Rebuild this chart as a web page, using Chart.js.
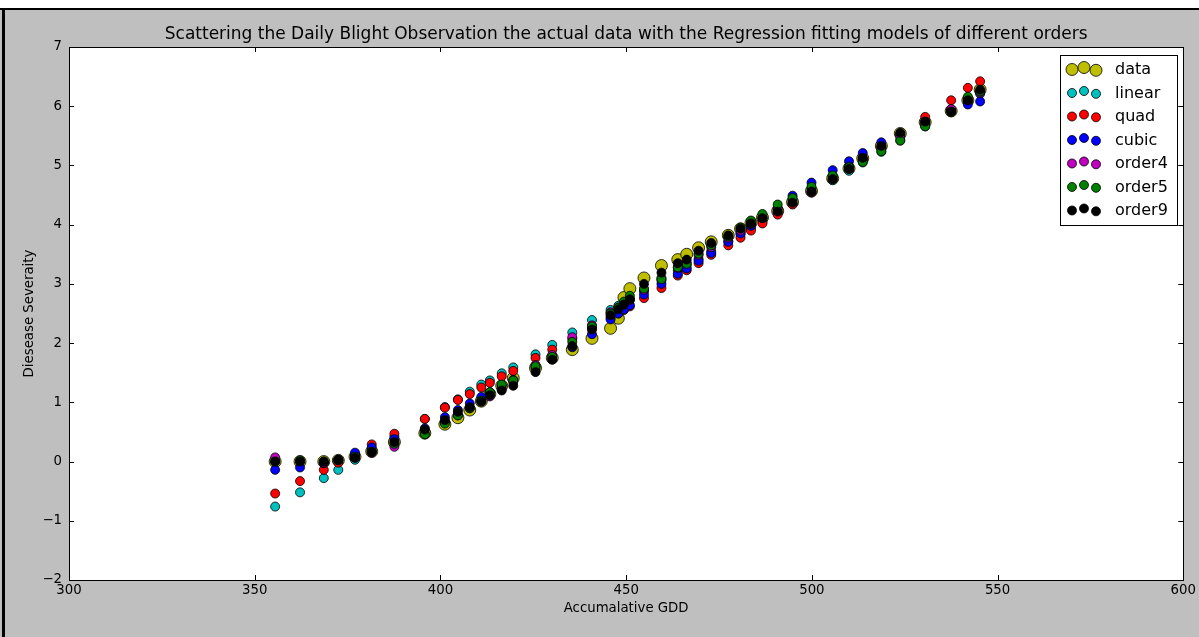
<!DOCTYPE html>
<html>
<head>
<meta charset="utf-8">
<script src="https://cdn.jsdelivr.net/npm/chart.js@4/dist/chart.umd.min.js"></script>
<style>
  html, body { margin: 0; padding: 0; background: #bfbfbf; overflow: hidden; }
  canvas { display: block; }
</style>
</head>
<body>
<canvas id="blight" width="1199" height="637"></canvas>
<script>
// Accumulated growing degree days for each observation day
const gdd = [355.5, 362.2, 368.6, 372.5, 377.0, 381.5, 387.6, 395.8, 401.2, 404.7,
             407.9, 411.0, 413.3, 416.5, 419.6, 425.6, 430.1, 435.5, 440.8, 445.8,
             447.9, 449.4, 451.0, 454.8, 459.5, 463.9, 466.3, 469.5, 472.9, 477.5,
             480.8, 483.6, 486.7, 490.8, 494.8, 499.9, 505.6, 510.0, 513.7, 518.7,
             523.8, 530.5, 537.5, 542.0, 545.3];

// Observed blight severity
const observed = [0.00, 0.00, 0.00, 0.02, 0.08, 0.17, 0.33, 0.48, 0.63, 0.74,
                  0.87, 1.02, 1.14, 1.28, 1.41, 1.58, 1.75, 1.89, 2.08, 2.25,
                  2.42, 2.77, 2.92, 3.10, 3.31, 3.41, 3.50, 3.61, 3.71, 3.82,
                  3.93, 4.03, 4.12, 4.23, 4.38, 4.57, 4.78, 4.95, 5.12, 5.33,
                  5.54, 5.73, 5.92, 6.10, 6.28];

// Predictions of the polynomial regressions
const linearFit = [-0.76, -0.52, -0.28, -0.14, 0.03, 0.19, 0.42, 0.72, 0.92, 1.05,
                   1.18, 1.30, 1.37, 1.49, 1.59, 1.81, 1.97, 2.18, 2.39, 2.56,
                   2.63, 2.69, 2.74, 2.88, 3.06, 3.22, 3.31, 3.42, 3.55, 3.72,
                   3.84, 3.94, 4.05, 4.20, 4.35, 4.54, 4.75, 4.91, 5.05, 5.23,
                   5.42, 5.66, 5.92, 6.08, 6.21];

const quadFit = [-0.54, -0.33, -0.14, -0.02, 0.12, 0.29, 0.47, 0.72, 0.91, 1.04,
                 1.14, 1.25, 1.33, 1.44, 1.53, 1.75, 1.89, 2.07, 2.25, 2.43,
                 2.50, 2.56, 2.62, 2.76, 2.93, 3.14, 3.23, 3.35, 3.49, 3.65,
                 3.78, 3.90, 4.02, 4.17, 4.34, 4.55, 4.77, 4.94, 5.10, 5.31,
                 5.52, 5.82, 6.10, 6.31, 6.42];

const cubicFit = [-0.14, -0.10, -0.03, 0.03, 0.15, 0.24, 0.38, 0.56, 0.75, 0.87,
                  0.98, 1.09, 1.17, 1.28, 1.38, 1.58, 1.73, 1.93, 2.15, 2.40,
                  2.50, 2.57, 2.64, 2.82, 3.00, 3.17, 3.26, 3.39, 3.52, 3.71,
                  3.85, 3.98, 4.11, 4.28, 4.49, 4.71, 4.92, 5.07, 5.21, 5.39,
                  5.53, 5.74, 5.93, 6.03, 6.08];

const order4Fit = [0.07, 0.00, -0.02, 0.02, 0.08, 0.15, 0.25, 0.47, 0.66, 0.78,
                   0.90, 1.02, 1.10, 1.22, 1.34, 1.63, 1.80, 2.10, 2.30, 2.52,
                   2.60, 2.67, 2.73, 2.90, 3.10, 3.27, 3.36, 3.49, 3.62, 3.78,
                   3.90, 4.01, 4.12, 4.27, 4.42, 4.61, 4.82, 4.98, 5.11, 5.29,
                   5.48, 5.71, 5.95, 6.10, 6.23];

const order5Fit = [0.00, 0.02, 0.00, 0.02, 0.08, 0.17, 0.30, 0.46, 0.64, 0.78,
                   0.90, 1.03, 1.17, 1.30, 1.37, 1.61, 1.77, 2.02, 2.28, 2.50,
                   2.60, 2.70, 2.80, 2.92, 3.08, 3.28, 3.34, 3.51, 3.65, 3.80,
                   3.95, 4.07, 4.18, 4.34, 4.45, 4.64, 4.83, 4.97, 5.06, 5.24,
                   5.42, 5.66, 5.90, 6.16, 6.25];

const order9Fit = [0.00, 0.00, 0.00, 0.03, 0.06, 0.16, 0.33, 0.54, 0.70, 0.84,
                   0.92, 1.01, 1.12, 1.20, 1.28, 1.51, 1.72, 1.95, 2.23, 2.47,
                   2.57, 2.65, 2.74, 3.00, 3.19, 3.35, 3.41, 3.56, 3.69, 3.82,
                   3.93, 4.02, 4.11, 4.22, 4.37, 4.56, 4.77, 4.94, 5.13, 5.33,
                   5.55, 5.74, 5.91, 6.10, 6.28];

const seriesNames = ['data', 'linear', 'quad', 'cubic', 'order4', 'order5', 'order9'];
const seriesValues = [observed, linearFit, quadFit, cubicFit, order4Fit, order5Fit, order9Fit];
const seriesColors = ['#bfbf00', '#00bfbf', '#ff0000', '#0000ff', '#bf00bf', '#008000', '#000000'];

const xTicks = { min: 300, max: 600, step: 50 };
const yTicks = { min: -2, max: 7, step: 1 };

const chartTitle = 'Scattering the Daily Blight Observation the actual data with the Regression fitting models of different orders';
const xTitle = 'Accumalative GDD';
const yTitle = 'Diesease Severaity';

const FONT = '"DejaVu Sans", sans-serif';

const datasets = seriesNames.map((name, i) => ({
  label: name,
  data: gdd.map((x, j) => ({ x, y: seriesValues[i][j] })),
  backgroundColor: seriesColors[i],
  borderColor: 'rgba(0,0,0,0.8)',
  borderWidth: 1,
  pointRadius: i === 0 ? 6 : 4.5,
  pointHoverRadius: i === 0 ? 6 : 4.5,
  // later series sit on top of earlier ones
  order: seriesNames.length - i
}));

// page frame, plot background, inner tick marks, title and legend box
const decorations = {
  id: 'decorations',
  beforeDraw(chart) {
    const { ctx, chartArea: a, width, height } = chart;
    ctx.save();
    ctx.fillStyle = '#bfbfbf';
    ctx.fillRect(0, 0, width, height);
    ctx.fillStyle = '#ffffff';
    ctx.fillRect(0, 0, width, 8);
    ctx.fillStyle = '#000000';
    ctx.fillRect(0, 8, width, 2);
    ctx.fillRect(2, 8, 3, height - 8);
    ctx.fillStyle = '#ffffff';
    ctx.fillRect(a.left, a.top, a.right - a.left, a.bottom - a.top);
    ctx.restore();
  },
  afterDatasetsDraw(chart) {
    const { ctx, chartArea: a, scales } = chart;
    ctx.save();
    // ticks pointing inward on all four sides
    ctx.strokeStyle = '#000';
    ctx.lineWidth = 1;
    const tl = 5;
    ctx.beginPath();
    scales.x.ticks.forEach(t => {
      const px = Math.round(scales.x.getPixelForValue(t.value)) + 0.5;
      ctx.moveTo(px, a.bottom); ctx.lineTo(px, a.bottom - tl);
      ctx.moveTo(px, a.top); ctx.lineTo(px, a.top + tl);
    });
    scales.y.ticks.forEach(t => {
      const py = Math.round(scales.y.getPixelForValue(t.value)) + 0.5;
      ctx.moveTo(a.left, py); ctx.lineTo(a.left + tl, py);
      ctx.moveTo(a.right, py); ctx.lineTo(a.right - tl, py);
    });
    ctx.stroke();
    // axes frame
    ctx.strokeRect(Math.round(a.left) + 0.5, Math.round(a.top) + 0.5,
                   Math.round(a.right - a.left), Math.round(a.bottom - a.top));

    // title
    ctx.fillStyle = '#000';
    ctx.font = '17px ' + FONT;
    ctx.textAlign = 'center';
    ctx.textBaseline = 'alphabetic';
    ctx.fillText(chartTitle, (a.left + a.right) / 2, 39);

    // legend with three markers per entry
    const box = { x: 1060, y: 55, w: 117, h: 170 };
    ctx.fillStyle = '#fff';
    ctx.fillRect(box.x, box.y, box.w, box.h);
    ctx.strokeRect(box.x + 0.5, box.y + 0.5, box.w, box.h);
    const markerX = [1072, 1084, 1096];
    const markerDy = [0.5, -1.5, 1.3];
    chart.data.datasets.forEach((ds, i) => {
      const cy = 69 + i * 23.5;
      markerX.forEach((mx, k) => {
        ctx.beginPath();
        ctx.arc(mx, cy + markerDy[k], ds.pointRadius, 0, Math.PI * 2);
        ctx.fillStyle = ds.backgroundColor;
        ctx.fill();
        ctx.strokeStyle = ds.borderColor;
        ctx.lineWidth = 1;
        ctx.stroke();
      });
      ctx.fillStyle = '#000';
      ctx.font = '16px ' + FONT;
      ctx.textAlign = 'left';
      ctx.textBaseline = 'middle';
      ctx.fillText(ds.label, 1115, cy + 1);
    });
    ctx.restore();
  }
};

const minusSign = v => (v < 0 ? '\u2212' + Math.abs(v) : String(v));

new Chart(document.getElementById('blight'), {
  type: 'scatter',
  data: { datasets },
  options: {
    responsive: false,
    animation: false,
    devicePixelRatio: 1,
    layout: { padding: { top: 47, left: 0, right: 13, bottom: 0 } },
    plugins: {
      legend: { display: false },
      title: { display: false },
      tooltip: { enabled: false }
    },
    scales: {
      x: {
        type: 'linear',
        min: xTicks.min,
        max: xTicks.max,
        grid: { display: false, drawTicks: false },
        border: { display: false },
        ticks: {
          stepSize: xTicks.step,
          color: '#000',
          font: { family: FONT, size: 13.3 },
          padding: 3,
          maxRotation: 0,
          callback: minusSign
        },
        title: {
          display: true,
          text: xTitle,
          color: '#000',
          font: { family: FONT, size: 13.3 },
          padding: { top: 0, bottom: 20 }
        },
        afterFit(scale) { scale.height = 57; }
      },
      y: {
        type: 'linear',
        min: yTicks.min,
        max: yTicks.max,
        grid: { display: false, drawTicks: false },
        border: { display: false },
        ticks: {
          stepSize: yTicks.step,
          color: '#000',
          font: { family: FONT, size: 13.3 },
          padding: 7,
          callback: minusSign
        },
        title: {
          display: true,
          text: yTitle,
          color: '#000',
          font: { family: FONT, size: 13.3 },
          padding: { top: 22, bottom: 0 }
        },
        afterFit(scale) { scale.width = 69; }
      }
    }
  },
  plugins: [decorations]
});
</script>
</body>
</html>
